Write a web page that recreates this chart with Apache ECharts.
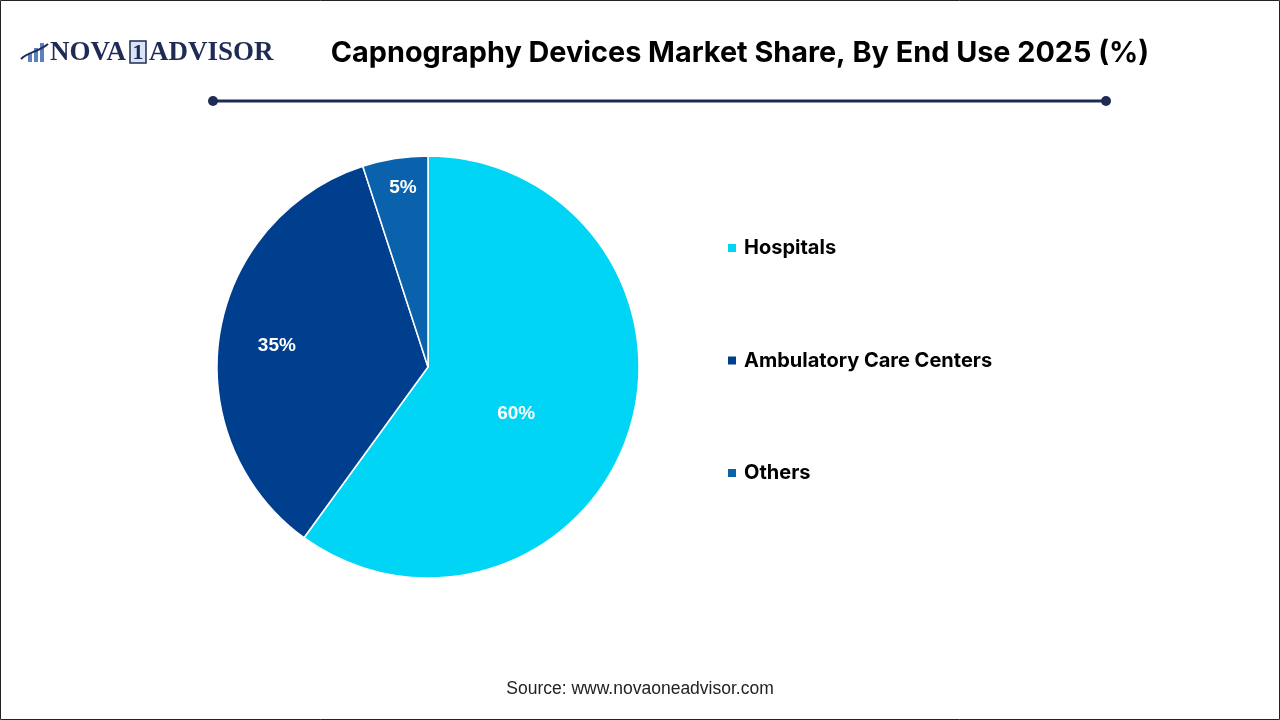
<!DOCTYPE html>
<html>
<head>
<meta charset="utf-8">
<script src="https://cdn.jsdelivr.net/npm/echarts@6/dist/echarts.min.js"></script>
<style>
html,body{margin:0;padding:0;background:#fff;}
#main{width:1280px;height:720px;}
</style>
</head>
<body>
<div id="main"></div>
<script>
// data
var categories = ['Hospitals', 'Ambulatory Care Centers', 'Others'];
var shares = [60, 35, 5];
var colors = ['#00d5f6', '#003e8e', '#0a62ad'];
// nudge for each inner label (like the original's best-fit placement)
var labelShift = [[-15, 13], [-44, -4], [-8, -72]];

var chart = echarts.init(document.getElementById('main'));

var pieData = categories.map(function (name, i) {
	return { name: name, value: shares[i] };
});

var option = {
	backgroundColor: '#fff',
	color: colors,
	title: {
		text: 'Capnography Devices Market Share, By End Use 2025 (%)',
		left: 735,
		top: 34,
		textAlign: 'center',
		textStyle: {
			fontFamily: 'Inter',
			fontWeight: 'bold',
			fontSize: 28.8,
			color: '#000'
		}
	},
	legend: {
		orient: 'vertical',
		left: 726,
		top: 238,
		padding: 0,
		itemGap: 92.5,
		itemWidth: 10,
		itemHeight: 10,
		icon: 'rect',
		data: categories,
		textStyle: {
			fontFamily: 'Inter',
			fontWeight: 'bold',
			fontSize: 20,
			color: '#000',
			padding: [0, 0, 0, 2]
		}
	},
	series: [
		{
			type: 'pie',
			center: [428, 367],
			radius: [0, 211],
			startAngle: 90,
			clockwise: true,
			avoidLabelOverlap: false,
			itemStyle: {
				borderColor: '#fff',
				borderWidth: 1.5
			},
			label: {
				show: true,
				position: 'inner',
				formatter: '{c}%',
				color: '#fff',
				fontFamily: 'Arial',
				fontWeight: 'bold',
				fontSize: 19
			},
			labelLayout: function (params) {
				var s = labelShift[params.dataIndex];
				return { dx: s[0], dy: s[1] };
			},
			labelLine: { show: false },
			emphasis: { disabled: true },
			data: pieData
		}
	],
	graphic: [
		// frame
		{
			type: 'rect',
			shape: { x: 0.5, y: 0.5, width: 1279, height: 719 },
			style: { fill: 'none', stroke: '#222', lineWidth: 1 },
			silent: true
		},
		// title rule
		{
			type: 'line',
			shape: { x1: 213, y1: 101, x2: 1106, y2: 101 },
			style: { stroke: '#1f2a55', lineWidth: 3 }
		},
		{ type: 'circle', shape: { cx: 213, cy: 101, r: 5 }, style: { fill: '#1f2a55' } },
		{ type: 'circle', shape: { cx: 1106, cy: 101, r: 5 }, style: { fill: '#1f2a55' } },
		// logo bars
		{ type: 'rect', shape: { x: 28, y: 53, width: 4, height: 9 }, style: { fill: '#5b7fc4' } },
		{ type: 'rect', shape: { x: 34, y: 48, width: 4, height: 14 }, style: { fill: '#5b7fc4' } },
		{ type: 'rect', shape: { x: 40, y: 43, width: 4, height: 19 }, style: { fill: '#5b7fc4' } },
		{
			type: 'bezierCurve',
			shape: { x1: 21, y1: 59, cpx1: 29, cpy1: 51, cpx2: 37, cpy2: 53, x2: 48, y2: 44 },
			style: { stroke: '#1f2a55', lineWidth: 2, fill: 'none' }
		},
		{
			type: 'text',
			style: {
				x: 50, y: 53,
				text: 'NOVA',
				verticalAlign: 'middle',
				font: 'bold 27px "Liberation Serif", serif',
				fill: '#1f2a55'
			}
		},
		{
			type: 'rect',
			shape: { x: 130, y: 41, width: 16, height: 22 },
			style: { fill: '#d9e4f5', stroke: '#1f2a55', lineWidth: 1.5 }
		},
		{
			type: 'text',
			style: {
				x: 138, y: 53,
				text: '1',
				align: 'center',
				verticalAlign: 'middle',
				font: 'bold 22px "Liberation Serif", serif',
				fill: '#1f2a55'
			}
		},
		{
			type: 'text',
			style: {
				x: 149, y: 53,
				text: 'ADVISOR',
				verticalAlign: 'middle',
				font: 'bold 27px "Liberation Serif", serif',
				fill: '#1f2a55'
			}
		},
		// source
		{
			type: 'text',
			style: {
				x: 640, y: 689,
				text: 'Source: www.novaoneadvisor.com',
				align: 'center',
				verticalAlign: 'middle',
				font: '17.5px "Liberation Sans", Arial, sans-serif',
				fill: '#222'
			}
		}
	]
};

chart.setOption(option);
</script>
</body>
</html>
